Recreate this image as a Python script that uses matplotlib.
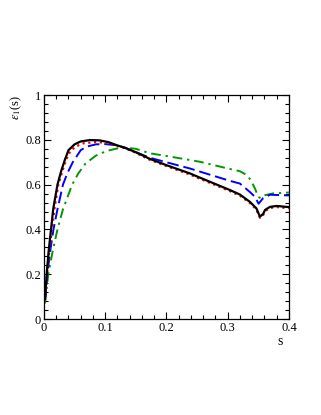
import matplotlib.pyplot as plt
from matplotlib.ticker import MultipleLocator

plt.rcParams['font.family'] = 'Liberation Serif'
plt.rcParams['mathtext.fontset'] = 'stix'

# curves
s_black = [0.0016, 0.0044, 0.0075, 0.0115, 0.015, 0.022, 0.028, 0.034, 0.04, 0.05, 0.06,
           0.075, 0.09, 0.105, 0.12, 0.132, 0.15, 0.173, 0.2, 0.2386, 0.255, 0.3037, 0.32,
           0.336, 0.347, 0.3527, 0.358, 0.361, 0.369, 0.38, 0.4]
v_black = [0.09, 0.2, 0.3, 0.4, 0.49, 0.6, 0.66, 0.71, 0.754, 0.78, 0.793,
           0.799, 0.798, 0.79, 0.775, 0.765, 0.745, 0.715, 0.687, 0.65, 0.631, 0.576, 0.556,
           0.524, 0.494, 0.457, 0.47, 0.487, 0.501, 0.505, 0.5]

s_red = [0.0016, 0.0047, 0.0085, 0.013, 0.017, 0.0235, 0.03, 0.036, 0.043, 0.053, 0.065,
         0.085, 0.1, 0.115, 0.132, 0.15, 0.173, 0.2, 0.2386, 0.255, 0.3037, 0.32,
         0.336, 0.347, 0.3527, 0.358, 0.361, 0.369, 0.38, 0.4]
v_red = [0.08, 0.19, 0.3, 0.4, 0.49, 0.6, 0.66, 0.71, 0.75, 0.772, 0.785,
         0.79, 0.787, 0.777, 0.763, 0.742, 0.711, 0.683, 0.645, 0.626, 0.571, 0.551,
         0.519, 0.489, 0.452, 0.465, 0.482, 0.496, 0.5, 0.495]

s_blue = [0.0016, 0.0054, 0.01, 0.0155, 0.022, 0.031, 0.038, 0.047, 0.06, 0.07, 0.085,
          0.1, 0.118, 0.132, 0.15, 0.173, 0.2, 0.2386, 0.255, 0.3037, 0.32, 0.336, 0.3445,
          0.3505, 0.358, 0.369, 0.38, 0.4]
v_blue = [0.08, 0.2, 0.3, 0.4, 0.49, 0.6, 0.65, 0.7, 0.754, 0.77, 0.78,
          0.781, 0.776, 0.765, 0.745, 0.72, 0.7, 0.672, 0.658, 0.617, 0.605, 0.568, 0.546,
          0.515, 0.54, 0.555, 0.554, 0.552]

s_green = [0.0016, 0.007, 0.014, 0.022, 0.031, 0.046, 0.056, 0.068, 0.085, 0.102, 0.12,
           0.135, 0.15, 0.173, 0.2, 0.2386, 0.255, 0.3037, 0.32, 0.33, 0.338, 0.345,
           0.35, 0.354, 0.361, 0.374, 0.4]
v_green = [0.07, 0.2, 0.3, 0.4, 0.49, 0.6, 0.65, 0.695, 0.73, 0.75, 0.762,
           0.765, 0.76, 0.74, 0.728, 0.71, 0.702, 0.67, 0.66, 0.645, 0.62, 0.58,
           0.545, 0.54, 0.553, 0.561, 0.565]

x_ticks = [0, 0.1, 0.2, 0.3, 0.4]
x_labels = ['0', '0.1', '0.2', '0.3', '0.4']
y_ticks = [0, 0.2, 0.4, 0.6, 0.8, 1]
y_labels = ['0', '0.2', '0.4', '0.6', '0.8', '1']

fig = plt.figure(figsize=(3.21, 4.15), dpi=100)
ax = fig.add_axes([0.137, 0.231, 0.763, 0.540])

ax.plot(s_green, v_green, color='#009900', lw=1.4, dashes=[5, 2.5, 1.2, 2.5])
ax.plot(s_blue, v_blue, color='#0000ff', lw=1.4, dashes=[6, 2.5])
ax.plot(s_red, v_red, color='#ff0000', lw=1.6, dashes=[1, 1.6])
ax.plot(s_black, v_black, color='black', lw=1.6)

ax.set_xlim(0, 0.4)
ax.set_ylim(0, 1)
ax.set_xticks(x_ticks)
ax.set_xticklabels(x_labels)
ax.set_yticks(y_ticks)
ax.set_yticklabels(y_labels)
ax.xaxis.set_minor_locator(MultipleLocator(0.02))
ax.yaxis.set_minor_locator(MultipleLocator(0.04))
ax.tick_params(which='both', direction='in', top=True, right=True, labelsize=9, width=0.8)
ax.tick_params(which='major', length=5, pad=2)
ax.tick_params(which='minor', length=3)
for sp in ax.spines.values():
    sp.set_linewidth(0.9)

ax.text(-0.115, 1.0, r'$\varepsilon_1$(s)', transform=ax.transAxes, rotation=90,
        ha='center', va='top', fontsize=9)
ax.text(0.965, -0.07, 's', transform=ax.transAxes, ha='center', va='top', fontsize=10)

fig.savefig('out.png', dpi=100)
